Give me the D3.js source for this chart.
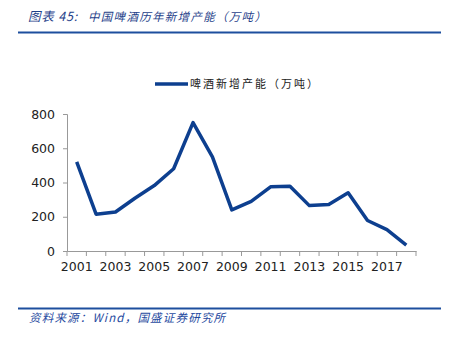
<!DOCTYPE html>
<html>
<head>
<meta charset="utf-8">
<script src="https://cdn.jsdelivr.net/npm/d3@7"></script>
<style>
  html, body { margin: 0; padding: 0; background: #fff; }
  svg { display: block; }
</style>
</head>
<body>
<svg id="chart" width="452" height="337"></svg>
<script>
// Annual new brewing capacity in China (10k tonnes)
const years = ["2001","2002","2003","2004","2005","2006","2007","2008","2009",
               "2010","2011","2012","2013","2014","2015","2016","2017","2018"];
const capacity = [520, 215, 228, 308, 382, 480, 750, 550, 240,
                  290, 375, 378, 265, 272, 340, 178, 125, 35];
const yTicks = [0, 200, 400, 600, 800];
const xLabels = ["2001","2003","2005","2007","2009","2011","2013","2015","2017"];

const titleLabel = "图表 45:";
const titleText = "中国啤酒历年新增产能（万吨）";
const seriesName = "啤酒新增产能（万吨）";
const sourceText = "资料来源：Wind，国盛证券研究所";

const svg = d3.select("#chart");
const blue = "#0d3f8f";
const headBlue = "#1d4e9e";
const cjk = "'Noto Sans CJK SC', sans-serif";

// Header and footer
svg.append("text").attr("x", 28).attr("y", 21)
  .attr("font-family", cjk).attr("font-size", 12.5).attr("font-style", "italic")
  .attr("letter-spacing", 0.8)
  .attr("fill", "#1f3f8a").text(titleLabel);
svg.append("text").attr("x", 88).attr("y", 21)
  .attr("font-family", cjk).attr("font-size", 11.5).attr("font-style", "italic")
  .attr("letter-spacing", 1.3)
  .attr("fill", "#1f3f8a").text(titleText);
svg.append("line").attr("x1", 18).attr("x2", 441).attr("y1", 32.5).attr("y2", 32.5)
  .attr("stroke", headBlue).attr("stroke-width", 2);

svg.append("line").attr("x1", 18).attr("x2", 441).attr("y1", 308.5).attr("y2", 308.5)
  .attr("stroke", headBlue).attr("stroke-width", 2);
svg.append("text").attr("x", 29).attr("y", 322)
  .attr("font-family", cjk).attr("font-size", 11.5).attr("font-style", "italic")
  .attr("letter-spacing", 1.2)
  .attr("fill", "#1f4aa0").text(sourceText);

// Plot area
const plotLeft = 67, plotRight = 416, plotTop = 114, plotBottom = 251;

const x = d3.scaleBand().domain(years).range([plotLeft, plotRight]);
const y = d3.scaleLinear().domain([0, 800]).range([plotBottom, plotTop]);

const axisFont = "'DejaVu Sans', Verdana, sans-serif";

const yAxis = svg.append("g").attr("transform", `translate(${plotLeft},0)`)
  .call(d3.axisLeft(y).tickValues(yTicks).tickSize(4).tickPadding(8));
yAxis.selectAll("text").attr("font-family", axisFont).attr("font-size", 12.5).attr("fill", "#222");

const xAxis = svg.append("g").attr("transform", `translate(0,${plotBottom})`)
  .call(d3.axisBottom(x).tickValues(xLabels).tickSize(0).tickPadding(11));
xAxis.selectAll("text").attr("font-family", axisFont).attr("font-size", 12.5).attr("fill", "#222");

// Category boundary ticks on the x axis
const bounds = years.map(d => x(d)).concat([x(years[years.length - 1]) + x.bandwidth()]);
xAxis.selectAll("line.bound").data(bounds).enter().append("line")
  .attr("class", "bound")
  .attr("x1", d => d).attr("x2", d => d).attr("y1", 0).attr("y2", 5)
  .attr("stroke", "#999");

svg.selectAll(".domain").attr("stroke", "#999");
svg.selectAll(".tick line").attr("stroke", "#999");

// Series line
const line = d3.line()
  .x((d, i) => x(years[i]) + x.bandwidth() / 2)
  .y(d => y(d));
svg.append("path").datum(capacity)
  .attr("d", line)
  .attr("fill", "none")
  .attr("stroke", blue)
  .attr("stroke-width", 3.5)
  .attr("stroke-linejoin", "round");

// Legend
svg.append("line").attr("x1", 155).attr("x2", 188).attr("y1", 84).attr("y2", 84)
  .attr("stroke", blue).attr("stroke-width", 3.5);
svg.append("text").attr("x", 190).attr("y", 88)
  .attr("font-family", cjk).attr("font-size", 11).attr("letter-spacing", 2)
  .attr("fill", "#222").text(seriesName);
</script>
</body>
</html>
